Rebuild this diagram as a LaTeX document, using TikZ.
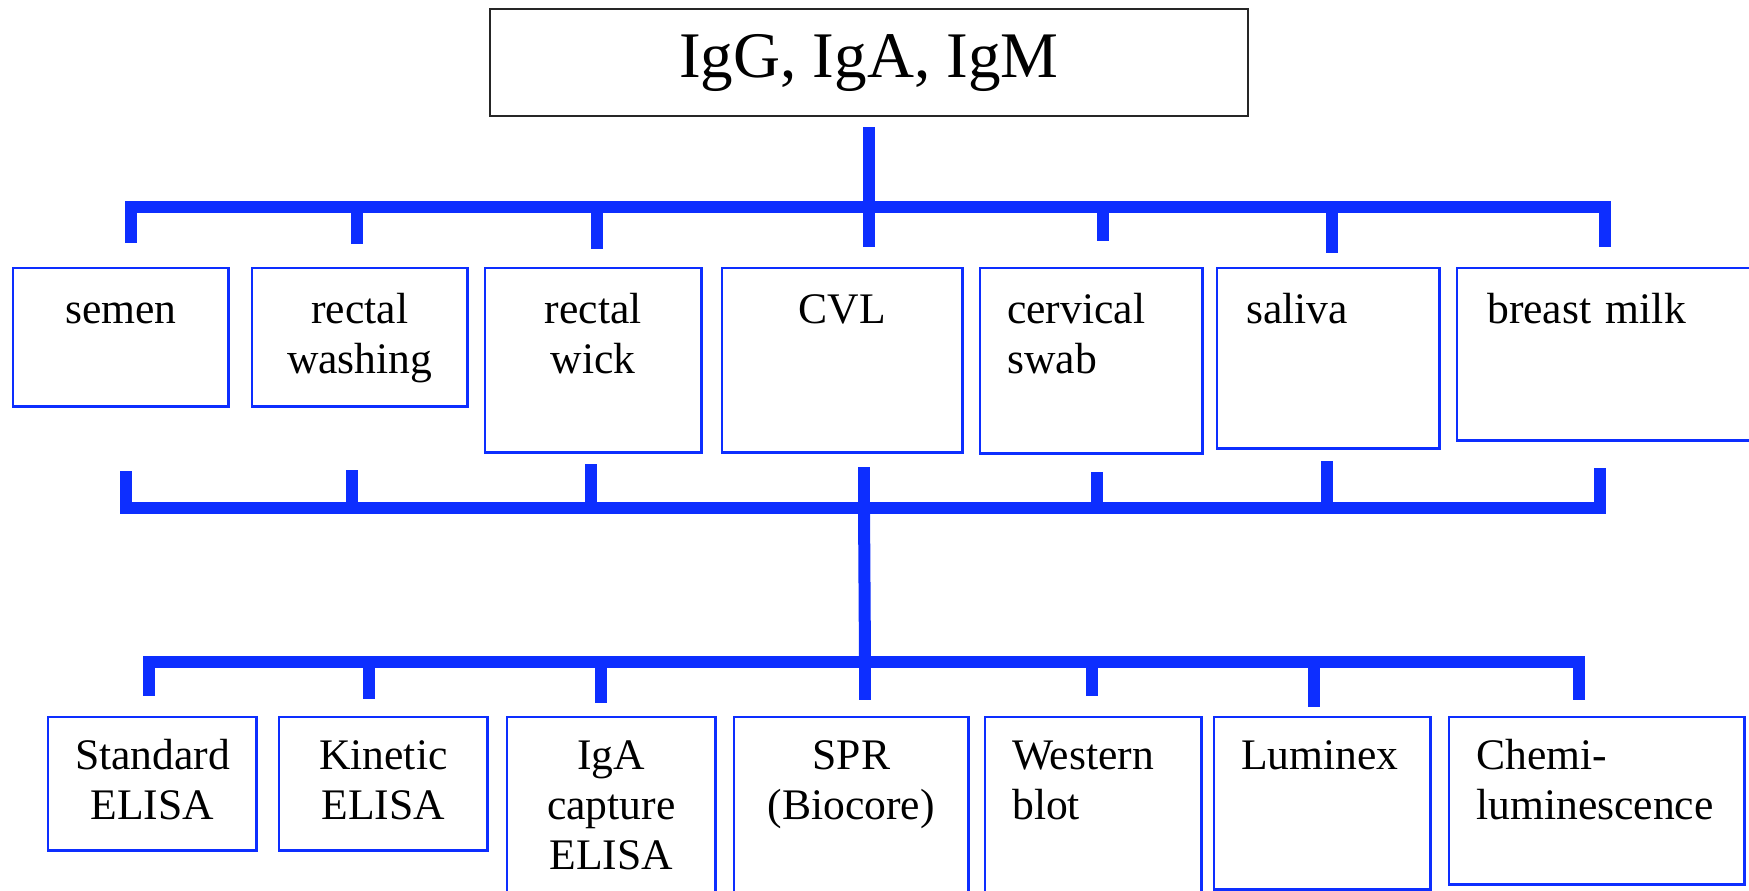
\documentclass[tikz,border=0pt]{standalone}
\usepackage{fontspec}
\setmainfont{Liberation Serif}

\definecolor{barblue}{RGB}{13,46,255}

\tikzset{
  bar/.style={draw=barblue, line width=0.12cm},
  box/.style={draw=barblue, line width=0.7pt, anchor=north west,
    inner xsep=0.27cm, inner ysep=0pt, font=\fontsize{12.4}{14.2}\selectfont},
}

\begin{document}
\begin{tikzpicture}[x=0.01cm,y=-0.01cm]
  \useasboundingbox (0,0) rectangle (1749,890);

  % antibody classes
  \node[draw=black!85, line width=0.6pt, minimum width=7.58cm, minimum height=1.07cm,
    inner sep=0pt, font=\fontsize{18.5}{22}\selectfont] (ig) at (869,62.5) {IgG, IgA, IgM};

  % samples
  \node[box, align=center, text width=1.61cm, text height=0.55cm, text depth=0.83cm] (semen) at (12,267) {semen};
  \node[box, align=center, text width=1.61cm, text height=0.55cm, text depth=0.83cm] (washing) at (251,267) {rectal\\washing};
  \node[box, align=center, text width=1.62cm, text height=0.55cm, text depth=1.29cm] (wick) at (484,267) {rectal\\wick};
  \node[box, align=center, text width=1.86cm, text height=0.55cm, text depth=1.29cm] (cvl) at (721,267) {CVL};
  \node[box, align=left, text width=1.68cm, text height=0.55cm, text depth=1.30cm] (swab) at (979,267) {cervical\\swab};
  \node[box, align=left, inner xsep=0.29cm, text width=1.64cm, text height=0.55cm, text depth=1.25cm] (saliva) at (1216,267) {saliva};
  \node[box, align=left, inner xsep=0.30cm, text width=2.40cm, text height=0.55cm, text depth=1.17cm] (milk) at (1456,267) {breast milk};

  % assays
  \node[box, align=center, text width=1.54cm, text height=0.52cm, text depth=0.81cm] (standard) at (47,716) {Standard\\ELISA};
  \node[box, align=center, text width=1.54cm, text height=0.52cm, text depth=0.81cm] (kinetic) at (278,716) {Kinetic\\ELISA};
  \node[box, align=center, text width=1.54cm, text height=0.52cm, text depth=1.45cm] (capture) at (506,716) {IgA\\capture\\ELISA};
  \node[box, align=center, text width=1.80cm, text height=0.52cm, text depth=1.45cm] (spr) at (733,716) {SPR\\(Biocore)};
  \node[box, align=left, text width=1.62cm, text height=0.52cm, text depth=1.45cm] (western) at (984,716) {Western\\blot};
  \node[box, align=left, text width=1.62cm, text height=0.52cm, text depth=1.20cm] (luminex) at (1213,716) {Luminex};
  \node[box, align=left, text width=2.41cm, text height=0.52cm, text depth=1.15cm] (chemi) at (1448,716) {Chemi-\\luminescence};

  % top tree
  \coordinate (hub top) at (869,207);
  \draw[bar] (ig.south) ++(0,10) -- (hub top);
  \draw[bar] (125,207) -- (1611,207);
  \foreach \x/\y in {131/243,357/244,597/249,869/247,1103/241,1332/253,1605/247}
    \draw[bar] (\x,207) -- (\x,\y);

  % middle tree
  \coordinate (hub mid) at (864,508);
  \draw[bar] (120,508) -- (1606,508);
  \foreach \x/\y in {126/471,352/470,591/464,864/467,1097/472,1327/461,1600/468}
    \draw[bar] (\x,508) -- (\x,\y);

  % bottom tree
  \coordinate (hub low) at (865,662);
  \draw[bar] (hub mid) -- (hub low);
  \draw[bar] (143,662) -- (1585,662);
  \foreach \x/\y in {149/696,369/699,601/703,865/700,1092/696,1314/707,1579/700}
    \draw[bar] (\x,662) -- (\x,\y);
\end{tikzpicture}
\end{document}
